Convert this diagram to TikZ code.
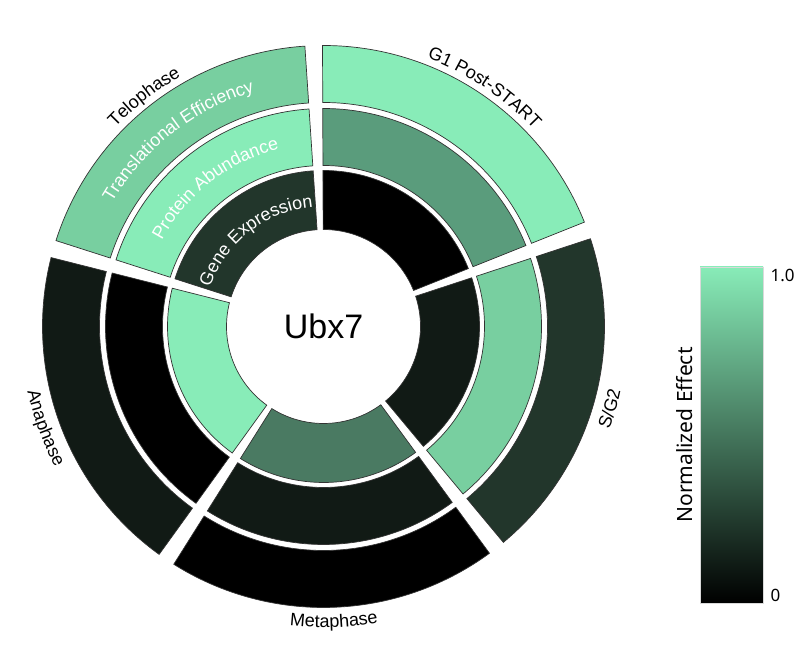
\documentclass[tikz,border=0pt]{standalone}
\usepackage{fontspec}
\setmainfont{Liberation Sans}
\newfontfamily\cbfont{Noto Sans}
\usetikzlibrary{decorations.text}
\definecolor{cA}{HTML}{88ECB8}
\definecolor{cB}{HTML}{78CFA0}
\definecolor{cC}{HTML}{5A9C7C}
\definecolor{cD}{HTML}{4A7A62}
\definecolor{cE}{HTML}{22362B}
\definecolor{cF}{HTML}{111A15}
\definecolor{cG}{HTML}{000000}
\tikzset{
  seg/.style={draw=black!80, line width=0.7pt},
  outlbl/.style={decorate, decoration={text along path, text align=center}},
}
\newcommand\inF{\fontsize{18}{18}\selectfont\color{white}}
\newcommand\outF{\fontsize{18}{18}\selectfont}
\newcommand\mySeg[5]{%
  \filldraw[seg, fill=#5] ({#1+1.8}:#4pt) arc[start angle={#1+1.8}, end angle={#2-1.8}, radius=#4pt]
    -- ({#2-1.8}:#3pt) arc[start angle={#2-1.8}, end angle={#1+1.8}, radius=#3pt] -- cycle;}
\begin{document}
\begin{tikzpicture}[x=1pt,y=1pt]
\useasboundingbox (0,0) rectangle (800,650);
\begin{scope}[shift={(323.5,323.5)}]
% G1 Post-START 20-92
\mySeg{20}{92}{97}{156}{cG}
\mySeg{20}{92}{161}{218}{cC}
\mySeg{20}{92}{224}{281}{cA}
% Telophase 92-164
\mySeg{92}{164}{97}{156}{cE}
\mySeg{92}{164}{161}{218}{cA}
\mySeg{92}{164}{224}{281}{cB}
% Anaphase 164-236
\mySeg{164}{236}{97}{156}{cA}
\mySeg{164}{236}{161}{218}{cG}
\mySeg{164}{236}{224}{281}{cF}
% Metaphase 236-308
\mySeg{236}{308}{97}{156}{cD}
\mySeg{236}{308}{161}{218}{cF}
\mySeg{236}{308}{224}{281}{cG}
% S/G2 308-380
\mySeg{308}{380}{97}{156}{cF}
\mySeg{308}{380}{161}{218}{cB}
\mySeg{308}{380}{224}{281}{cE}
% inner ring labels (Telophase)
\path[outlbl, decoration={text={|\inF|Translational Efficiency}}]
  (162:245pt) arc[start angle=162, end angle=94, radius=245pt];
\path[outlbl, decoration={text={|\inF|Protein Abundance}}]
  (162:183pt) arc[start angle=162, end angle=94, radius=183pt];
\path[outlbl, decoration={text={|\inF|Gene Expression}}]
  (162:120pt) arc[start angle=162, end angle=94, radius=120pt];
% outer labels
\path[outlbl, decoration={text={|\outF|Telophase}}]
  (162:288pt) arc[start angle=162, end angle=94, radius=288pt];
\path[outlbl, decoration={text={|\outF|G1 Post-START}}]
  (90:288pt) arc[start angle=90, end angle=22, radius=288pt];
\path[outlbl, decoration={text={|\outF|Anaphase}}]
  (166:303pt) arc[start angle=166, end angle=234, radius=303pt];
\path[outlbl, decoration={text={|\outF|Metaphase}}]
  (238:301pt) arc[start angle=238, end angle=306, radius=301pt];
\path[outlbl, decoration={text={|\outF|S/G2}}]
  (310:304pt) arc[start angle=310, end angle=378, radius=304pt];
\node[font=\fontsize{34}{34}\selectfont] (title) at (0,0) {Ubx7};
\end{scope}
% colorbar
\shade[top color=cA, bottom color=black] (700,47) rectangle (763,383);
\draw[black!15, line width=0.5pt] (700,47) rectangle (763,383);
\node[font=\cbfont\fontsize{17}{17}\selectfont, anchor=west] (one) at (767,375) {1.0};
\node[font=\cbfont\fontsize{17}{17}\selectfont, anchor=west] (zero) at (767,55) {0};
\node[font=\cbfont\fontsize{21}{21}\selectfont, rotate=90] (lab) at (685,215) {Normalized Effect};
\end{tikzpicture}
\end{document}
